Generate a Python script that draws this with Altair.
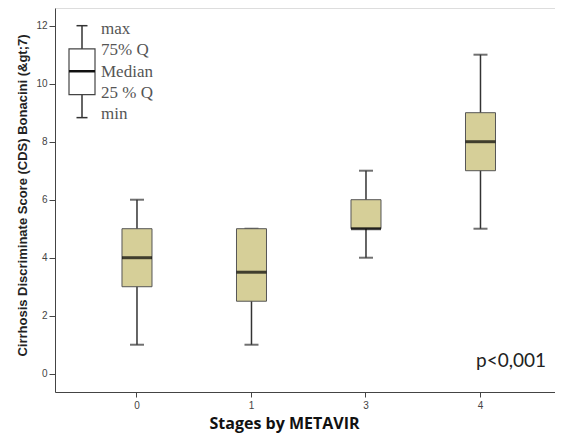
import altair as alt
import pandas as pd

# ---- data ----
stages = ["0", "1", "3", "4"]
mins = [1, 1, 4, 5]
q1s = [3, 2.5, 5, 7]
medians = [4, 3.5, 5, 8]
q3s = [5, 5, 6, 9]
maxs = [6, 5, 7, 11]

legend_box_values = [12.0, 11.2, 10.43, 9.62, 8.83]   # max, Q3, median, Q1, min
legend_labels = ["max", "75% Q", "Median", "25 % Q", "min"]
legend_label_y = [11.88, 11.16, 10.41, 9.67, 8.95]

annot_text = ["p<0,001"]

df = pd.DataFrame({"stage": stages, "lo": mins, "q1": q1s, "med": medians,
                   "q3": q3s, "hi": maxs})
leg = pd.DataFrame({"label": legend_labels, "v": legend_label_y})
leg_box = pd.DataFrame({"hi": [legend_box_values[0]], "q3": [legend_box_values[1]],
                        "med": [legend_box_values[2]], "q1": [legend_box_values[3]],
                        "lo": [legend_box_values[4]]})
ann = pd.DataFrame({"t": annot_text})

YTITLE = "Cirrhosis Discriminate Score (CDS) Bonacini (&gt;7)"
yscale = alt.Scale(domain=[-0.63, 12.61], nice=False, zero=False)
yaxis = alt.Axis(values=[0, 2, 4, 6, 8, 10, 12], grid=False, labelFontSize=10,
                 labelColor="#444", labelFont="Liberation Sans", tickSize=6,
                 tickColor="#444", domainColor="#444", labelPadding=2,
                 titleFont="Liberation Sans", titleFontSize=13,
                 titleFontWeight="bold", titleColor="#222", titlePadding=6,
                 titleY=187)


def Y(field):
    return alt.Y(f"{field}:Q", scale=yscale, axis=yaxis, title=YTITLE)


def Y2(field):
    return alt.Y2(f"{field}:Q")


xenc = alt.X("stage:N", sort=stages,
             scale=alt.Scale(paddingInner=0, paddingOuter=0.1834, align=0.589),
             axis=alt.Axis(labelAngle=0, labelFontSize=10, labelColor="#444",
                           labelFont="Liberation Sans", tickSize=5,
                           tickColor="#444", domainColor="#444",
                           labelPadding=3, titleFont="Open Sans",
                           titleFontSize=16, titleFontWeight="bold",
                           titleColor="#111", titlePadding=5, titleX=229),
             title="Stages by METAVIR")

base = alt.Chart(df)
whisker = base.mark_rule(color="#333", strokeWidth=1.5).encode(
    x=xenc, y=Y("lo"), y2=Y2("hi"))
cap_lo = base.mark_tick(color="#333", size=14, thickness=2).encode(
    x=xenc, y=Y("lo"))
cap_hi = base.mark_tick(color="#333", size=14, thickness=2).encode(
    x=xenc, y=Y("hi"))
box = base.mark_bar(size=30, fill="#d6cf98", stroke="#555",
                    strokeWidth=1).encode(x=xenc, y=Y("q1"), y2=Y2("q3"))
median = base.mark_tick(color="#000", size=30, thickness=3).encode(
    x=xenc, y=Y("med"))

# legend glyph (top-left)
lb = alt.Chart(leg_box)
l_whisk = lb.mark_rule(color="#333", strokeWidth=1.5).encode(
    x=alt.value(27), y=Y("lo"), y2=Y2("hi"))
l_cap_hi = lb.mark_rule(color="#333", strokeWidth=1.5).encode(
    x=alt.value(21.5), x2=alt.value(32.5), y=Y("hi"))
l_cap_lo = lb.mark_rule(color="#333", strokeWidth=1.5).encode(
    x=alt.value(21.5), x2=alt.value(32.5), y=Y("lo"))
l_box = lb.mark_bar(fill="white", stroke="#444", strokeWidth=1.2).encode(
    x=alt.value(14), x2=alt.value(40), y=Y("q1"), y2=Y2("q3"))
l_med = lb.mark_rule(color="#111", strokeWidth=2.5).encode(
    x=alt.value(14), x2=alt.value(40), y=Y("med"))
l_text = alt.Chart(leg).mark_text(align="left", baseline="middle",
                                  font="Liberation Serif", fontSize=17,
                                  color="#555").encode(
    x=alt.value(46), y=Y("v"), text="label:N")

p_text = alt.Chart(ann).mark_text(align="left", baseline="alphabetic",
                                  font="Lato", fontSize=19,
                                  color="#222").encode(
    x=alt.value(421), y=alt.value(359), text="t:N")

chart = alt.layer(whisker, cap_lo, cap_hi, box, median,
                  l_whisk, l_cap_hi, l_cap_lo, l_box, l_med, l_text,
                  p_text).properties(
    width=500, height=384,
    autosize=alt.AutoSizeParams(type="none"),
    padding={"left": 47, "top": 0, "right": 0, "bottom": 41},
).configure_view(fill="#f0f0f0", stroke="#888", strokeWidth=1.2
).configure(background="white")

chart.save("out.html", embed_options={"renderer": "svg", "actions": False})
